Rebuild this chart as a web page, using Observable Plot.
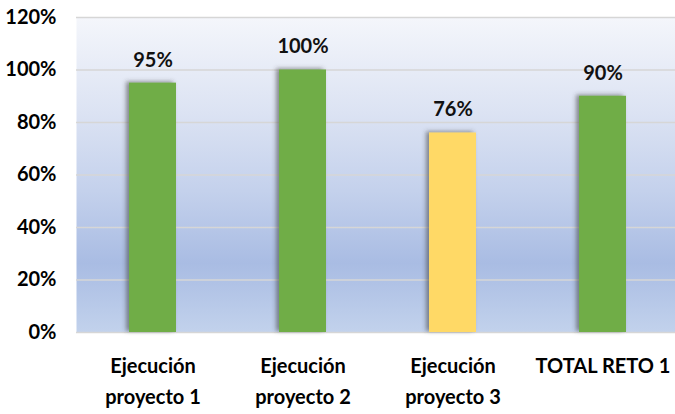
<!DOCTYPE html>
<html><head><meta charset="utf-8">
<script src="https://cdn.jsdelivr.net/npm/d3@7"></script>
<script src="https://cdn.jsdelivr.net/npm/@observablehq/plot@0.6"></script>
<style>body{margin:0;background:#fff;overflow:hidden;} svg{display:block;}</style>
</head><body><div id="chart"></div>
<script>
const categories = ["Ejecución\nproyecto 1", "Ejecución\nproyecto 2", "Ejecución\nproyecto 3", "TOTAL RETO 1"];
const values = [0.95, 1.00, 0.76, 0.90];
const colors = ["#70AD47", "#70AD47", "#FFD966", "#70AD47"];
const yTicks = [0, 0.2, 0.4, 0.6, 0.8, 1.0, 1.2];

const data = categories.map((c, i) => ({cat: c, value: values[i], color: colors[i]}));
const font = "Lato, 'Open Sans', sans-serif";

const chart = Plot.plot({
  width: 675, height: 414,
  marginTop: 17, marginBottom: 82, marginLeft: 76, marginRight: -4,
  style: {fontFamily: font, fontSize: "20px", fontWeight: "bold", color: "#000", background: "#fff", overflow: "hidden"},
  x: {domain: categories, paddingInner: 0.687, paddingOuter: 0.343, label: null},
  y: {domain: [0, 1.2], label: null},
  marks: [
    Plot.frame({fill: "url(#bgGrad)", stroke: null}),
    Plot.gridY(yTicks, {stroke: "#D6D6D6", strokeOpacity: 1, strokeWidth: 1.6}),
    Plot.barY(data, {x: "cat", y: "value", fill: "color"}),
    Plot.text(data, {x: "cat", y: "value", text: d => Math.round(d.value * 100) + "%", dy: -23, fontSize: 20, fontWeight: "bold", fill: "#111"}),
    Plot.axisX({fontSize: 20, fontWeight: "bold", tickSize: 0, tickPadding: 18, lineHeight: 1.55}),
    Plot.axisY({ticks: yTicks, tickFormat: d => Math.round(d * 100) + "%", fontSize: 20, fontWeight: "bold", tickSize: 0, tickPadding: 20})
  ]
});

const svg = d3.select(chart);
const defs = svg.insert("defs", ":first-child");
const g = defs.append("linearGradient").attr("id", "bgGrad").attr("x1", 0).attr("y1", 0).attr("x2", 0).attr("y2", 1);
[[0, "#F4F6FB"], [0.3, "#DCE3F3"], [0.55, "#C4D1EC"], [0.78, "#A9BCE3"], [1, "#C2D2EC"]].forEach(([o, c]) =>
  g.append("stop").attr("offset", o).attr("stop-color", c));
const f = defs.append("filter").attr("id", "shadow").attr("x", "-30%").attr("y", "-10%").attr("width", "160%").attr("height", "120%");
f.append("feDropShadow").attr("dx", -3).attr("dy", -1).attr("stdDeviation", 2).attr("flood-color", "#404040").attr("flood-opacity", 0.55);
svg.selectAll("g[aria-label='bar'] rect").attr("filter", "url(#shadow)");

document.getElementById("chart").appendChild(chart);
</script>
</body></html>
